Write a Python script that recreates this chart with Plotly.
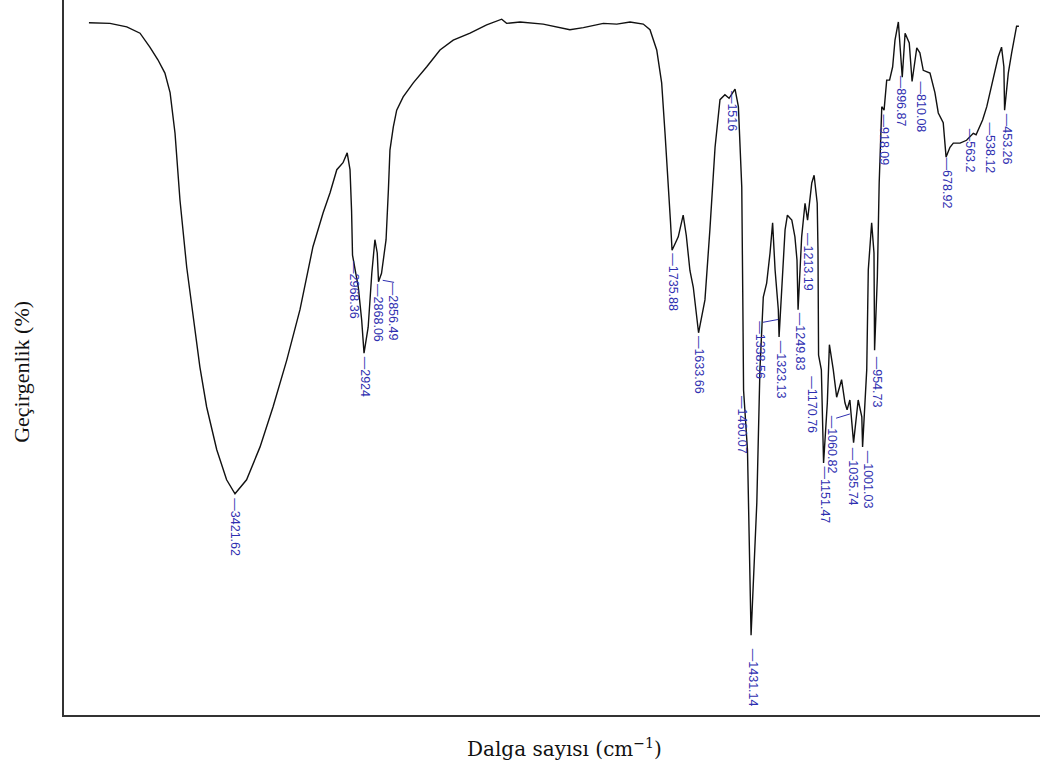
import plotly.graph_objects as go

# ---- spectrum data (wavenumber in cm-1, transmittance in %) ----
wavenumber = [
    3985, 3904, 3839, 3788, 3750, 3719, 3692, 3672, 3653, 3634, 3608, 3584, 3557, 3531,
    3492, 3454, 3429, 3421.62, 3377, 3325, 3275, 3222, 3171, 3121, 3082, 3055, 3029, 3005,
    2989, 2978, 2972, 2968.36, 2946, 2933, 2924, 2908, 2894, 2882, 2873, 2868.06, 2856.49,
    2839, 2830, 2824, 2811, 2798, 2773, 2734, 2682, 2631, 2580, 2515, 2451, 2393, 2374,
    2322, 2233, 2181, 2130, 2078, 2001, 1949, 1898, 1847, 1821, 1795, 1776, 1763, 1750,
    1742, 1735.88, 1712, 1693, 1681, 1667, 1654, 1633.66, 1609, 1590, 1570, 1551, 1532,
    1516, 1493, 1480, 1467, 1463, 1460.07, 1445, 1436, 1431.14, 1409, 1397, 1384, 1371,
    1358, 1348, 1338.56, 1326, 1323.13, 1309, 1300, 1291, 1274, 1262, 1254, 1249.83, 1236,
    1223, 1213.19, 1197, 1188, 1176, 1173, 1170.76, 1160, 1151.47, 1137, 1129, 1114, 1101,
    1082, 1069, 1060.82, 1050, 1035.74, 1018, 1004, 1001.03, 985, 979, 966, 957, 954.73,
    944, 937, 927, 918.09, 908, 896.87, 885, 876, 863, 854, 848, 837, 821, 810.08, 792,
    780, 767, 741, 722, 709, 690, 678.92, 664, 651, 625, 600, 574, 563.2, 538.12, 522,
    497, 478, 465, 456, 453.26, 439, 426, 413, 407, 398,
]
transmittance = [
    98.9, 98.8, 98.3, 97.4, 95.4, 93.6, 91.7, 88.9, 83.1, 73.6, 64.0, 56.9, 49.7, 44.0,
    37.9, 33.6, 31.9, 31.6, 33.6, 38.3, 44.0, 50.7, 57.9, 66.9, 71.7, 74.6, 77.9, 78.9,
    80.3, 77.9, 72.0, 65.7, 61.1, 56.4, 51.7, 55.4, 63.1, 67.9, 66.0, 61.9, 63.1,
    67.9, 75.0, 80.7, 84.0, 86.4, 88.3, 90.3, 92.6, 95.0, 96.4, 97.4, 98.6, 99.4, 98.8,
    99.0, 98.7, 98.3, 97.9, 98.2, 98.8, 98.7, 99.0, 98.7, 97.9, 95.0, 90.3, 83.1, 76.0,
    70.5, 66.4, 68.3, 71.4, 68.5, 63.5, 61.1, 54.6, 59.3, 69.3, 81.1, 87.9, 88.6,
    88.1, 89.4, 86.9, 75.4, 59.3, 46.4, 37.9, 16.4, 11.4, 30.3, 49.3, 59.7, 61.7,
    66.0, 70.3, 63.6, 57.9, 54.0, 63.6, 69.3, 71.4, 70.7, 68.3, 65.0, 57.9, 68.3,
    73.1, 70.7, 76.0, 77.1, 73.1, 66.4, 51.4, 49.3, 36.0, 44.6, 52.9, 49.3, 45.4,
    47.9, 44.6, 43.6, 45.0, 38.9, 45.0, 42.6, 38.3, 49.3, 63.6, 70.3, 66.0, 52.1,
    62.6, 76.0, 86.9, 86.4, 90.7, 90.7, 92.6, 96.4, 99.0, 95.0, 91.1, 97.4, 96.0, 90.5, 95.3,
    94.6, 92.1, 91.7, 88.9, 86.0, 84.6, 79.7, 81.1, 81.7, 81.7, 82.1, 83.1, 82.9, 85.0, 86.9,
    91.1, 94.0, 95.4, 92.6, 86.4, 91.7, 94.6, 97.4, 98.4, 98.4,
]

# ---- peak labels ----
peak_labels = [
    "3421.62", "2968.36", "2924", "2868.06", "2856.49", "1735.88", "1633.66", "1516",
    "1460.07", "1431.14", "1338.56", "1323.13", "1249.83", "1213.19", "1170.76", "1151.47",
    "1060.82", "1035.74", "1001.03", "954.73", "918.09", "896.87", "810.08", "678.92",
    "563.2", "538.12", "453.26",
]

# label placement (layout positions, data coordinates of label top)
label_pos_x = [
    3421.6, 2962.6, 2922.1, 2870.1, 2812.2, 1732.3, 1632.0, 1504.7,
    1466.1, 1423.7, 1396.7, 1315.7, 1242.4, 1211.6, 1196.1, 1145.9,
    1118.9, 1037.9, 980.1, 945.4, 918.4, 852.9, 775.7, 675.5,
    586.7, 509.6, 444.0,
]
label_pos_y = [
    31.1, 65.0, 51.4, 61.7, 61.9, 66.1, 54.3, 89.3,
    45.7, 9.6, 56.4, 53.6, 57.6, 69.0, 48.6, 35.7,
    42.9, 38.3, 37.9, 51.4, 86.0, 91.4, 90.7, 79.7,
    83.9, 84.7, 86.1,
]

# small leader lines joining offset labels to their bands (layout)
leader_x = [(2852, 2808), (1385, 1327), (1103, 1050)]
leader_y = [(62.1, 61.8), (56.1, 56.5), (42.4, 43.0)]

LABEL_COLOR = "#2f2fb0"

fig = go.Figure()
fig.add_trace(go.Scatter(
    x=wavenumber, y=transmittance, mode="lines",
    line=dict(color="#111111", width=1.4),
    hoverinfo="skip", showlegend=False,
))

for txt, lx, ly in zip(peak_labels, label_pos_x, label_pos_y):
    fig.add_annotation(
        x=lx, y=ly, xref="x", yref="y",
        text="\u2014" + txt, textangle=90, showarrow=False,
        xanchor="center", yanchor="top", borderpad=0,
        font=dict(family="Liberation Sans, Arial, sans-serif", size=12.5, color=LABEL_COLOR),
    )

for (x0, x1), (y0, y1) in zip(leader_x, leader_y):
    fig.add_shape(type="line", x0=x0, x1=x1, y0=y0, y1=y1, xref="x", yref="y",
                  line=dict(color=LABEL_COLOR, width=1))

fig.add_annotation(
    xref="paper", yref="paper", x=0.513, y=-0.046,
    text="Dalga sayısı (cm<sup>\u22121</sup>)", showarrow=False,
    xanchor="center", yanchor="middle",
    font=dict(family="DejaVu Serif, Liberation Serif, serif", size=20, color="#111111"),
)
fig.add_annotation(
    xref="paper", yref="paper", x=-0.043, y=0.48,
    text="Geçirgenlik (%)", textangle=-90, showarrow=False,
    xanchor="center", yanchor="middle",
    font=dict(family="Liberation Serif, Times New Roman, serif", size=22, color="#111111"),
)

fig.update_layout(
    width=1042, height=770,
    margin=dict(l=64, r=2, t=0, b=55),
    plot_bgcolor="white", paper_bgcolor="white",
    showlegend=False,
)
fig.update_xaxes(
    range=[4081.2, 316.7], showline=True, linecolor="#333333", linewidth=1.5,
    showgrid=False, zeroline=False, showticklabels=False, ticks="",
)
fig.update_yaxes(
    range=[0, 102.14], showline=True, linecolor="#333333", linewidth=1.5,
    showgrid=False, zeroline=False, showticklabels=False, ticks="",
)

fig.write_html("out.html")
